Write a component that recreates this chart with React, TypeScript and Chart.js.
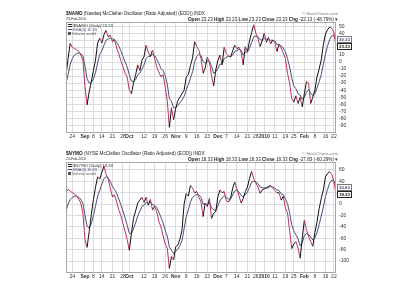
import { useEffect, useRef } from 'react';
import { Chart, registerables } from 'chart.js';
Chart.register(...registerables);

// ---- categories (trading days, Aug 19 2009 .. Feb 23 2010)
const augDays = [19, 20, 21, 24, 25, 26, 27, 28, 31];
const sepDays = [1, 2, 3, 4, 8, 9, 10, 11, 14, 15, 16, 17, 18, 21, 22, 23, 24, 25, 28, 29, 30];
const octDays = [1, 2, 5, 6, 7, 8, 9, 12, 13, 14, 15, 16, 19, 20, 21, 22, 23, 26, 27, 28, 29, 30];
const novDays = [2, 3, 4, 5, 6, 9, 10, 11, 12, 13, 16, 17, 18, 19, 20, 23, 24, 25, 27, 30];
const decDays = [1, 2, 3, 4, 7, 8, 9, 10, 11, 14, 15, 16, 17, 18, 21, 22, 23, 24, 28, 29, 30, 31];
const janDays = [4, 5, 6, 7, 8, 11, 12, 13, 14, 15, 19, 20, 21, 22, 25, 26, 27, 28, 29];
const febDays = [1, 2, 3, 4, 5, 8, 9, 10, 11, 12, 16, 17, 18, 19, 22, 23];

const dates: string[] = [
  ...augDays.map((d) => `Aug ${d}`),
  ...sepDays.map((d) => `Sep ${d}`),
  ...octDays.map((d) => `Oct ${d}`),
  ...novDays.map((d) => `Nov ${d}`),
  ...decDays.map((d) => `Dec ${d}`),
  ...janDays.map((d) => `Jan ${d}`),
  ...febDays.map((d) => `Feb ${d}`),
];

// ---- x tick labels
const tickDates = ['Aug 24', 'Sep 1', 'Sep 8', 'Sep 14', 'Sep 21', 'Sep 28', 'Oct 1', 'Oct 12', 'Oct 19', 'Oct 26', 'Nov 2', 'Nov 9', 'Nov 16', 'Nov 23', 'Dec 1', 'Dec 7', 'Dec 14', 'Dec 21', 'Dec 28', 'Jan 4', 'Jan 11', 'Jan 19', 'Jan 25', 'Feb 1', 'Feb 8', 'Feb 16', 'Feb 22'];
const tickTexts = ['24', 'Sep', '8', '14', '21', '28', 'Oct', '12', '19', '26', 'Nov', '9', '16', '23', 'Dec', '7', '14', '21', '28', '2010', '11', '19', '25', 'Feb', '8', '16', '22'];
const boldTicks = ['Sep', 'Oct', 'Nov', 'Dec', '2010', 'Feb'];

// ---- $NAMO
const namoPrice = [
  -19, 5, 27,
  21, 19, 18, 15, 10, 3, -35, -61, -42, -28,
  -12, 3, 27, 34, 27, 39, 45, 36, 38, 29,
  32, 20, 12, 2, -7, -16, -21, -40, -45, -30,
  -18, -4, -12, 2, 8, 24, 14, 8, 17, 5,
  -7, -14, -21, -18, -35, -55, -93, -65, -82, -66,
  -55, -50, -45, -40, -21, -18, -5, 6, 29, 22,
  17, 5, -16, -8, 7, 0, -20, -34, -11, 2,
  10, -4, 21, 12, 9, 7, 16, 24, 19, 21,
  14, -4, 22, 15, 30, 42, 53, 41, 34, 22,
  30, 41, 28, 35, 26, 31, 28, 15, 25, 20,
  13, 5, -16, -30, -52, -57, -48, -59, -50, -64,
  -45, -28, -30, -59, -50, -40, -21, -10, 3, 25,
  40, 46, 50, 48, 42, 23.23,
];
const namoEma = [
  -30, -18, -3,
  5, 10, 12, 13, 12, 9, -6, -24, -30, -29,
  -24, -15, -1, 11, 16, 24, 31, 33, 34, 33,
  32, 28, 23, 16, 8, 0, -7, -18, -27, -28,
  -25, -18, -16, -10, -4, 5, 8, 8, 11, 9,
  4, -2, -9, -12, -19, -31, -52, -56, -65, -65,
  -62, -58, -54, -49, -40, -32, -23, -14, 1, 8,
  11, 9, 1, -2, 1, 1, -6, -16, -14, -9,
  -3, -3, 5, 7, 8, 8, 10, 15, 16, 18,
  17, 10, 14, 14, 20, 27, 36, 37, 36, 32,
  31, 34, 32, 33, 31, 31, 30, 25, 25, 23,
  20, 15, 5, -7, -22, -34, -38, -45, -47, -53,
  -50, -43, -39, -45, -47, -45, -37, -28, -18, -3,
  11, 23, 32, 37, 38, 30.33,
];
const namoYTicks = [-90, -80, -70, -60, -50, -40, -30, -20, -10, 0, 10, 20, 30, 40, 50];

// ---- $NYMO
const nymoPrice = [
  22, 26, 23,
  20, 18, 14, 9, 2, -16, -62, -76, -48, -18,
  8, 30, 48, 44, 56, 67, 52, 44, 28, 13,
  16, 4, -10, -20, -34, -48, -62, -81, -52, -25,
  -12, 2, 7, 12, 3, 12, -2, 8, -10, -4,
  -13, -30, -40, -55, -70, -77, -113, -92, -98, -75,
  -72, -62, -45, 0, 19, 14, 33, 28, 20, 22,
  12, 4, -22, 2, -4, 10, -25, -16, -13, 13,
  25, 20, 22, 6, 4, 10, 28, 39, 27, 15,
  2, 10, 22, 30, 45, 58, 44, 37, 30, 19,
  25, 27, 29, 31, 33, 28, 24, 20, 20, 7,
  14, -7, -15, -46, -78, -70, -66, -77, -95, -60,
  -28, -45, -57, -66, -74, -50, -31, -8, 10, 25,
  48, 54, 57, 52, 40, 18.33,
];
const nymoEma = [
  -13, 0, 8,
  12, 14, 14, 12, 9, 1, -20, -39, -42, -34,
  -20, -3, 14, 24, 35, 45, 48, 46, 40, 31,
  26, 19, 9, -1, -12, -24, -37, -51, -52, -43,
  -33, -21, -12, -4, -2, 3, 1, 4, -1, -2,
  -6, -14, -23, -33, -46, -56, -75, -81, -87, -83,
  -79, -73, -64, -43, -22, -10, 4, 12, 15, 17,
  16, 12, 0, 1, -1, 3, -7, -10, -11, -3,
  6, 11, 15, 12, 9, 9, 16, 23, 25, 21,
  15, 13, 16, 21, 29, 39, 40, 39, 36, 30,
  29, 28, 28, 29, 31, 30, 28, 25, 24, 18,
  17, 9, 1, -15, -36, -47, -54, -61, -73, -68,
  -55, -52, -53, -58, -63, -59, -50, -36, -21, -5,
  13, 26, 37, 42, 41, 30.83,
];
const nymoYTicks = [-100, -80, -60, -40, -20, 0, 20, 40, 60];

// ---- styling
const FONT = '"Liberation Sans", Arial, sans-serif';
const UP = '#111111';
const DOWN = '#c0305f';
const EMA_COLOR = '#48507e';
const GRID = '#dcdcdc';

type Seg = { t: string; b?: boolean };

function segsWidth(ctx: CanvasRenderingContext2D, segs: Seg[], size: number) {
  let w = 0;
  for (const s of segs) {
    ctx.font = `${s.b ? 'bold ' : ''}${size}px ${FONT}`;
    w += ctx.measureText(s.t).width;
  }
  return w;
}

function drawSegs(ctx: CanvasRenderingContext2D, segs: Seg[], x: number, y: number, targetW: number, align: 'left' | 'right', color: string) {
  const size = (10 * targetW) / segsWidth(ctx, segs, 10);
  let cx = align === 'right' ? x - targetW : x;
  ctx.fillStyle = color;
  ctx.textBaseline = 'middle';
  ctx.textAlign = 'left';
  for (const s of segs) {
    ctx.font = `${s.b ? 'bold ' : ''}${size}px ${FONT}`;
    ctx.fillText(s.t, cx, y);
    cx += ctx.measureText(s.t).width;
  }
}

const headerPlugin = {
  id: 'header',
  afterDraw(chart: any, _args: any, opts: any) {
    const ctx: CanvasRenderingContext2D = chart.ctx;
    const area = chart.chartArea;
    ctx.save();
    // frame
    ctx.strokeStyle = '#a8a8a8';
    ctx.lineWidth = 1;
    ctx.strokeRect(Math.round(area.left) + 0.5, Math.round(area.top) + 0.5, Math.round(area.right - area.left) - 1, Math.round(area.bottom - area.top) - 1);

    drawSegs(ctx, [{ t: opts.symbol, b: true }, { t: opts.name }], 66, 14, 139, 'left', '#222');
    drawSegs(ctx, [{ t: '© StockCharts.com' }], 338, 14, 36, 'right', '#777');
    drawSegs(ctx, [{ t: opts.date }], 66, 19.5, 20, 'left', '#333');
    const v = opts.last;
    drawSegs(
      ctx,
      [
        { t: 'Open', b: true }, { t: ` ${v} ` },
        { t: 'High', b: true }, { t: ` ${v} ` },
        { t: 'Low', b: true }, { t: ` ${v} ` },
        { t: 'Close', b: true }, { t: ` ${v} ` },
        { t: 'Chg', b: true }, { t: ` ${opts.chg} ▾` },
      ],
      338, 19.5, 150, 'right', '#222'
    );

    // legend in plot
    const lx = area.left + 2;
    ctx.lineWidth = 1;
    ctx.strokeStyle = '#222';
    ctx.beginPath();
    ctx.moveTo(lx, 24.5); ctx.lineTo(lx + 4, 24.5);
    ctx.moveTo(lx, 26.5); ctx.lineTo(lx + 4, 26.5);
    ctx.stroke();
    drawSegs(ctx, [{ t: `${opts.symbol} (Daily) ${v}` }], lx + 5, 25.5, 40, 'left', '#333');
    ctx.strokeStyle = EMA_COLOR;
    ctx.beginPath();
    ctx.moveTo(lx, 29.5); ctx.lineTo(lx + 4, 29.5);
    ctx.stroke();
    drawSegs(ctx, [{ t: `EMA(5) ${opts.ema}` }], lx + 5, 29.5, 24, 'left', EMA_COLOR);
    ctx.fillStyle = '#555';
    ctx.fillRect(lx, 32, 3, 3);
    drawSegs(ctx, [{ t: 'Volume undef' }], lx + 4, 33.5, 24, 'left', '#555');

    // value boxes on the right axis
    const ys = chart.scales.y;
    let yPrice = ys.getPixelForValue(opts.lastValue);
    let yEma = ys.getPixelForValue(opts.emaValue);
    if (Math.abs(yEma - yPrice) < 7) yEma = yPrice - 7;
    const bx = area.right + 1;
    const drawBox = (y: number, text: string, border: string, color: string) => {
      ctx.fillStyle = '#fff';
      ctx.fillRect(bx, Math.round(y - 3), 15, 7);
      ctx.strokeStyle = border;
      ctx.strokeRect(bx + 0.5, Math.round(y - 3) + 0.5, 14, 6);
      drawSegs(ctx, [{ t: text, b: true }], bx + 2, Math.round(y) + 0.5, 11, 'left', color);
    };
    drawBox(yEma, String(opts.ema), '#777', EMA_COLOR);
    drawBox(yPrice, String(v), '#222', '#111');
    ctx.restore();
  },
};

function makeConfig(price: number[], ema: number[], yMin: number, yMax: number, yTicks: number[], bottomPad: number, header: any): any {
  const tickMap: Record<number, string> = {};
  tickDates.forEach((d, i) => {
    const idx = dates.indexOf(d);
    if (idx >= 0) tickMap[idx] = tickTexts[i];
  });
  return {
    type: 'line',
    data: {
      labels: dates,
      datasets: [
        {
          data: price,
          borderColor: UP,
          borderWidth: 1,
          pointRadius: 0,
          tension: 0,
          order: 0,
          segment: {
            borderColor: (c: any) => (c.p1.parsed.y < c.p0.parsed.y ? DOWN : UP),
          },
        },
        {
          data: ema,
          borderColor: EMA_COLOR,
          borderWidth: 1,
          pointRadius: 0,
          tension: 0,
          order: 1,
        },
      ],
    },
    options: {
      responsive: false,
      animation: false,
      events: [],
      layout: { padding: { left: 66, top: 22, right: 0, bottom: bottomPad } },
      plugins: {
        legend: { display: false },
        tooltip: { enabled: false },
        header,
      },
      scales: {
        x: {
          type: 'category',
          offset: false,
          border: { display: false },
          grid: {
            drawTicks: false,
            color: (c: any) => (tickMap[c.index] !== undefined ? GRID : 'rgba(0,0,0,0)'),
          },
          afterFit: (s: any) => {
            s.height = 7;
          },
          ticks: {
            autoSkip: false,
            maxRotation: 0,
            minRotation: 0,
            padding: 1,
            color: '#333',
            font: (c: any) => ({
              size: 5,
              family: FONT,
              weight: boldTicks.includes(tickMap[c.index]) ? 'bold' : 'normal',
            }),
            callback: (_v: any, i: number) => tickMap[i] ?? '',
          },
        },
        y: {
          position: 'right',
          min: yMin,
          max: yMax,
          border: { display: false },
          grid: { drawTicks: false, color: GRID },
          afterBuildTicks: (s: any) => {
            s.ticks = yTicks.map((v) => ({ value: v }));
          },
          afterFit: (s: any) => {
            s.width = 64;
          },
          ticks: {
            autoSkip: false,
            padding: 3,
            color: '#333',
            font: { size: 5, family: FONT },
          },
        },
      },
    },
    plugins: [headerPlugin],
  };
}

export default function App() {
  const topRef = useRef<HTMLCanvasElement>(null);
  const botRef = useRef<HTMLCanvasElement>(null);
  useEffect(() => {
    const c1 = new Chart(
      topRef.current!,
      makeConfig(namoPrice, namoEma, -101, 57, namoYTicks, 0, {
        symbol: '$NAMO',
        name: ' (Nasdaq McClellan Oscillator (Ratio Adjusted) (EOD)) INDX',
        date: '23-Feb-2010',
        last: '23.23',
        chg: '-22.13 (-48.79%)',
        ema: '30.33',
        lastValue: 23.23,
        emaValue: 30.33,
      })
    );
    const c2 = new Chart(
      botRef.current!,
      makeConfig(nymoPrice, nymoEma, -121, 74, nymoYTicks, 20, {
        symbol: '$NYMO',
        name: ' (NYSE McClellan Oscillator (Ratio Adjusted) (EOD)) INDX',
        date: '23-Feb-2010',
        last: '18.33',
        chg: '-27.83 (-60.29%)',
        ema: '30.83',
        lastValue: 18.33,
        emaValue: 30.83,
      })
    );
    return () => {
      c1.destroy();
      c2.destroy();
    };
  }, []);
  return (
    <div style={{ position: 'absolute', left: 0, top: 0, width: 400, height: 300, background: '#fff' }}>
      <canvas ref={topRef} width={400} height={140} style={{ position: 'absolute', left: 0, top: 0, width: 400, height: 140 }} />
      <canvas ref={botRef} width={400} height={160} style={{ position: 'absolute', left: 0, top: 140, width: 400, height: 160 }} />
    </div>
  );
}
